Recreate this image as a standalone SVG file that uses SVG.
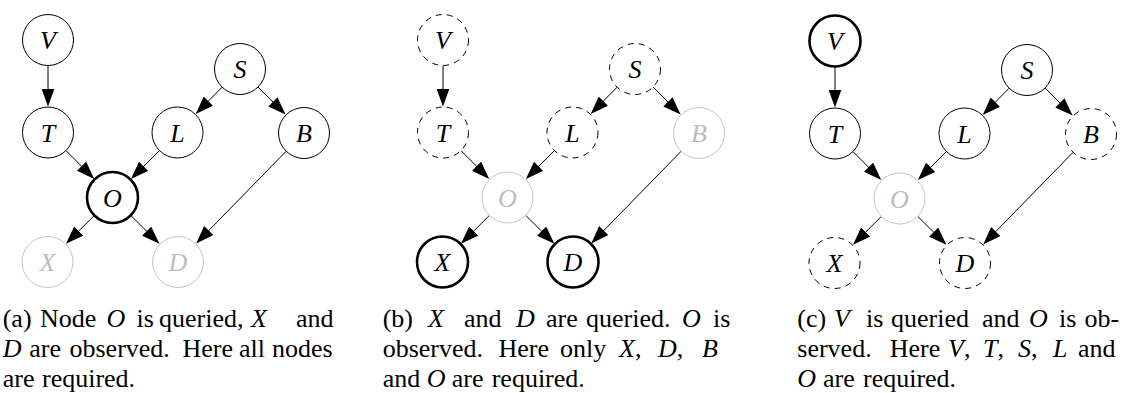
<svg xmlns="http://www.w3.org/2000/svg" width="1128" height="393" viewBox="0 0 1128 393">
<style>
.nd circle{fill:#fff;stroke:#000;stroke-width:1}
.nd text{font-family:"Liberation Serif",serif;font-style:italic;font-size:26px;text-anchor:middle;fill:#000}
.thick circle{stroke-width:2.6}
.gray circle{stroke:#c4c4c4}
.gray text{fill:#bcbcbc}
.dash circle{stroke-dasharray:6 5.2}
.edges line{stroke:#000;stroke-width:1;marker-end:url(#ah)}
.cap{font-family:"Liberation Serif",serif;font-size:26px;fill:#000}
.m{font-style:italic}
</style>
<defs>
<marker id="ah" markerWidth="18" markerHeight="13" refX="16" refY="6.5" orient="auto" markerUnits="userSpaceOnUse">
<path d="M0,0 L18,6.5 L0,13 z" fill="#000"/>
</marker>
</defs>

<g id="connectors">
<g class="edges" id="edges-a">
<line x1="48" y1="65.5" x2="48" y2="104.5"/>
<line x1="222.1" y1="87.2" x2="197.1" y2="112.5"/>
<line x1="258" y1="87" x2="284.2" y2="113.2"/>
<line x1="66" y1="150.6" x2="92.8" y2="177.6"/>
<line x1="159.5" y1="150.5" x2="132.3" y2="177.7"/>
<line x1="94" y1="215.8" x2="67.4" y2="242.3"/>
<line x1="131" y1="215.7" x2="158" y2="242.4"/>
<line x1="286.2" y1="151.2" x2="197.6" y2="242"/>
</g>
<g class="edges" id="edges-b" transform="translate(395,0)">
<line x1="48" y1="65.5" x2="48" y2="104.5"/>
<line x1="222.1" y1="87.2" x2="197.1" y2="112.5"/>
<line x1="258" y1="87" x2="284.2" y2="113.2"/>
<line x1="66" y1="150.6" x2="92.8" y2="177.6"/>
<line x1="159.5" y1="150.5" x2="132.3" y2="177.7"/>
<line x1="94" y1="215.8" x2="67.4" y2="242.3"/>
<line x1="131" y1="215.7" x2="158" y2="242.4"/>
<line x1="286.2" y1="151.2" x2="197.6" y2="242"/>
</g>
<g class="edges" id="edges-c" transform="translate(787,1)">
<line x1="48" y1="65.5" x2="48" y2="104.5"/>
<line x1="222.1" y1="87.2" x2="197.1" y2="112.5"/>
<line x1="258" y1="87" x2="284.2" y2="113.2"/>
<line x1="66" y1="150.6" x2="92.8" y2="177.6"/>
<line x1="159.5" y1="150.5" x2="132.3" y2="177.7"/>
<line x1="94" y1="215.8" x2="67.4" y2="242.3"/>
<line x1="131" y1="215.7" x2="158" y2="242.4"/>
<line x1="286.2" y1="151.2" x2="197.6" y2="242"/>
</g>
</g>

<g id="panel-a">
<g id="a-V" class="nd"><circle cx="48" cy="40" r="25.5"/><text x="48" y="49">V</text></g>
<g id="a-T" class="nd"><circle cx="48" cy="132.5" r="25.5"/><text x="48" y="141.5">T</text></g>
<g id="a-S" class="nd"><circle cx="240" cy="69" r="25.5"/><text x="240" y="78">S</text></g>
<g id="a-L" class="nd"><circle cx="177.5" cy="132.5" r="25.5"/><text x="177.5" y="141.5">L</text></g>
<g id="a-B" class="nd"><circle cx="304" cy="133" r="25.5"/><text x="304" y="142">B</text></g>
<g id="a-O" class="nd thick"><circle cx="112.5" cy="197.5" r="25.5"/><text x="112.5" y="206.5">O</text></g>
<g id="a-X" class="nd gray"><circle cx="47.5" cy="262" r="25.5"/><text x="47.5" y="271">X</text></g>
<g id="a-D" class="nd gray"><circle cx="178" cy="262" r="25.5"/><text x="178" y="271">D</text></g>
</g>

<g id="panel-b" transform="translate(395,0)">
<g id="b-V" class="nd dash"><circle cx="48" cy="40" r="25.5"/><text x="48" y="49">V</text></g>
<g id="b-T" class="nd dash"><circle cx="48" cy="132.5" r="25.5"/><text x="48" y="141.5">T</text></g>
<g id="b-S" class="nd dash"><circle cx="240" cy="69" r="25.5"/><text x="240" y="78">S</text></g>
<g id="b-L" class="nd dash"><circle cx="177.5" cy="132.5" r="25.5"/><text x="177.5" y="141.5">L</text></g>
<g id="b-B" class="nd gray"><circle cx="304" cy="133" r="25.5"/><text x="304" y="142">B</text></g>
<g id="b-O" class="nd gray"><circle cx="112.5" cy="197.5" r="25.5"/><text x="112.5" y="206.5">O</text></g>
<g id="b-X" class="nd thick"><circle cx="47.5" cy="262" r="25.5"/><text x="47.5" y="271">X</text></g>
<g id="b-D" class="nd thick"><circle cx="178" cy="262" r="25.5"/><text x="178" y="271">D</text></g>
</g>

<g id="panel-c" transform="translate(787,1)">
<g id="c-V" class="nd thick"><circle cx="48" cy="40" r="25.5"/><text x="48" y="49">V</text></g>
<g id="c-T" class="nd"><circle cx="48" cy="132.5" r="25.5"/><text x="48" y="141.5">T</text></g>
<g id="c-S" class="nd"><circle cx="240" cy="69" r="25.5"/><text x="240" y="78">S</text></g>
<g id="c-L" class="nd"><circle cx="177.5" cy="132.5" r="25.5"/><text x="177.5" y="141.5">L</text></g>
<g id="c-B" class="nd dash"><circle cx="304" cy="133" r="25.5"/><text x="304" y="142">B</text></g>
<g id="c-O" class="nd gray"><circle cx="112.5" cy="197.5" r="25.5"/><text x="112.5" y="206.5">O</text></g>
<g id="c-X" class="nd dash"><circle cx="47.5" cy="262" r="25.5"/><text x="47.5" y="271">X</text></g>
<g id="c-D" class="nd dash"><circle cx="178" cy="262" r="25.5"/><text x="178" y="271">D</text></g>
</g>

<g id="captions">
<text class="cap" y="326.5"><tspan x="2.7">(a)</tspan><tspan x="40">Node</tspan><tspan x="106.5" class="m">O</tspan><tspan x="136.5">is</tspan><tspan x="159">queried,</tspan><tspan x="251" class="m">X</tspan><tspan x="296">and</tspan></text>
<text class="cap" y="356.5"><tspan x="2.7" class="m">D</tspan><tspan x="29.3">are</tspan><tspan x="69.5">observed.</tspan><tspan x="182.5">Here</tspan><tspan x="239">all</tspan><tspan x="272">nodes</tspan></text>
<text class="cap" y="386.5"><tspan x="2.7">are</tspan><tspan x="42">required.</tspan></text>

<text class="cap" y="326.5"><tspan x="382.7">(b)</tspan><tspan x="428" class="m">X</tspan><tspan x="464">and</tspan><tspan x="516" class="m">D</tspan><tspan x="546">are</tspan><tspan x="586">queried.</tspan><tspan x="682" class="m">O</tspan><tspan x="713">is</tspan></text>
<text class="cap" y="356.5"><tspan x="382.7">observed.</tspan><tspan x="498.5">Here</tspan><tspan x="560">only</tspan><tspan x="619"><tspan class="m">X</tspan>,</tspan><tspan x="658"><tspan class="m">D</tspan>,</tspan><tspan x="702" class="m">B</tspan></text>
<text class="cap" y="386.5"><tspan x="382.7">and</tspan><tspan x="426.7" class="m">O</tspan><tspan x="451.7">are</tspan><tspan x="491.7">required.</tspan></text>

<text class="cap" y="326.5"><tspan x="797.3">(c)</tspan><tspan x="834" class="m">V</tspan><tspan x="866">is</tspan><tspan x="891">queried</tspan><tspan x="982">and</tspan><tspan x="1029" class="m">O</tspan><tspan x="1059">is</tspan><tspan x="1084.5">ob-</tspan></text>
<text class="cap" y="356.5"><tspan x="797.3">served.</tspan><tspan x="889.7">Here</tspan><tspan x="948"><tspan class="m">V</tspan>,</tspan><tspan x="983"><tspan class="m">T</tspan>,</tspan><tspan x="1018"><tspan class="m">S</tspan>,</tspan><tspan x="1053" class="m">L</tspan><tspan x="1078">and</tspan></text>
<text class="cap" y="386.5"><tspan x="797.3" class="m">O</tspan><tspan x="823">are</tspan><tspan x="863">required.</tspan></text>
</g>
</svg>
